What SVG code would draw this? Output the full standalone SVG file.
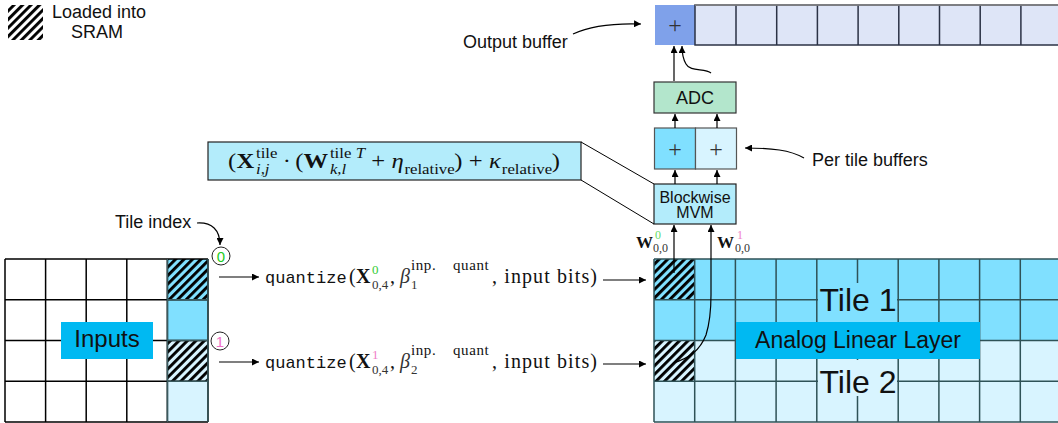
<svg xmlns="http://www.w3.org/2000/svg" width="1058" height="423" viewBox="0 0 1058 423">
<style>
.sans{font-family:"Liberation Sans",Arial,sans-serif}
.serif{font-family:"Liberation Serif","Times New Roman",serif}
.mono{font-family:"Liberation Mono","Courier New",monospace}
.b{font-weight:bold}
.i{font-style:italic}
.conn{fill:none;stroke:#000;stroke-width:1.2}
.grid-r{stroke:#2f5257;stroke-width:1.5;fill:none}
.grid-l{stroke:#000;stroke-width:1.5;fill:none}
.t1{fill:#80E0FF}
.t2{fill:#D8F4FF}
</style>
<defs>
<pattern id="hatch" patternUnits="userSpaceOnUse" width="6" height="6" patternTransform="rotate(45)">
<rect x="0" y="0" width="2.9" height="6" fill="#000"/>
</pattern>
<marker id="ah" viewBox="0 0 10 10" refX="10" refY="5" markerWidth="7" markerHeight="7" markerUnits="userSpaceOnUse" orient="auto">
<path d="M0,0 L10,5 L0,10 z" fill="#000"/>
</marker>
</defs>
<rect width="1058" height="423" fill="#fff"/>
<g fill="#111">

<g id="legend">
<rect x="8" y="5" width="35" height="35" fill="url(#hatch)"/>
<text class="sans" x="52" y="18" font-size="18">Loaded into</text>
<text class="sans" x="97" y="38" font-size="18" text-anchor="middle">SRAM</text>
</g>

<g id="output-buffer">
<rect x="655" y="5" width="40" height="40" fill="#7FA1EA"/>
<rect x="695" y="5" width="366" height="40" fill="#DEE5F7" stroke="#2b3245" stroke-width="1.5"/>
<path d="M736,5V45M776.7,5V45M817.4,5V45M858.1,5V45M898.8,5V45M939.5,5V45M980.2,5V45M1020.9,5V45" stroke="#2b3245" stroke-width="1.5"/>
<line x1="695" y1="5" x2="1058" y2="5" stroke="#888" stroke-width="1.5"/>
<text class="serif" x="675" y="33" font-size="24" text-anchor="middle" fill="#333">+</text>
<text class="sans" x="463" y="48" font-size="18">Output buffer</text>
</g>

<g id="adc">
<rect x="654" y="82" width="82" height="31" fill="#B3E6CC" stroke="#333" stroke-width="1.2"/>
<text class="sans" x="695" y="104" font-size="18" text-anchor="middle">ADC</text>
</g>

<g id="tile-buffers">
<rect x="654.5" y="128" width="41" height="41" class="t1" stroke="#555" stroke-width="1.2"/>
<rect x="695.5" y="128" width="41" height="41" class="t2" stroke="#555" stroke-width="1.2"/>
<text class="serif" x="675" y="157" font-size="24" text-anchor="middle" fill="#333">+</text>
<text class="serif" x="716" y="157" font-size="24" text-anchor="middle" fill="#333">+</text>
<text class="sans" x="812" y="166" font-size="18">Per tile buffers</text>
</g>

<g id="mvm">
<rect x="654" y="184" width="82" height="40" fill="#B3ECFB" stroke="#222" stroke-width="1.2"/>
<text class="sans" x="695" y="203" font-size="16" text-anchor="middle">Blockwise</text>
<text class="sans" x="695" y="218" font-size="16" text-anchor="middle">MVM</text>
</g>

<g id="formula">
<rect x="208" y="142" width="373" height="38" fill="#B3ECFB" stroke="#222" stroke-width="1.2"/>
<g transform="translate(228,0) scale(1.12,1) translate(-228,0)">
<text class="serif" x="228" y="168" font-size="22">(</text>
<text class="serif b" x="235.5" y="168" font-size="22">X</text>
<text class="serif" x="253" y="158" font-size="15">tile</text>
<text class="serif i" x="253" y="174" font-size="15">i,j</text>
<text class="serif" x="277" y="168" font-size="22">·</text>
<text class="serif" x="288" y="168" font-size="22">(</text>
<text class="serif b" x="295.5" y="168" font-size="22">W</text>
<text class="serif" x="319" y="158" font-size="15">tile</text>
<text class="serif i" x="342" y="158" font-size="15">T</text>
<text class="serif i" x="319" y="174" font-size="15">k,l</text>
<text class="serif" x="356" y="168" font-size="22">+</text>
<text class="serif i" x="374" y="168" font-size="22">η</text>
<text class="serif" x="385.5" y="174" font-size="15">relative</text>
<text class="serif" x="430" y="168" font-size="22">)</text>
<text class="serif" x="443" y="168" font-size="22">+</text>
<text class="serif i" x="461" y="168" font-size="22">κ</text>
<text class="serif" x="472.5" y="174" font-size="15">relative</text>
<text class="serif" x="517" y="168" font-size="22">)</text>
</g>
</g>

<g id="inputs">
<rect x="167.4" y="259" width="40.6" height="81.5" class="t1"/>
<rect x="167.4" y="340.5" width="40.6" height="81.5" class="t2"/>
<rect x="167.4" y="259" width="40.6" height="40.75" fill="url(#hatch)"/>
<rect x="167.4" y="340.5" width="40.6" height="40.75" fill="url(#hatch)"/>
<path class="grid-l" d="M5,259H208M5,299.75H208M5,340.5H208M5,381.25H208M5,422H208M5,259V422M45.6,259V422M86.2,259V422M126.8,259V422M167.4,259V422M208,259V422"/>
<path d="M167.4,259V422M208,259V422M167.4,299.75H208M167.4,340.5H208M167.4,381.25H208" stroke="#3a5a5e" stroke-width="1.5"/>
<rect x="61" y="322" width="92" height="37" fill="#00B9F2"/>
<text class="sans" x="107" y="347" font-size="24" text-anchor="middle">Inputs</text>
</g>

<g id="tile-index">
<text class="sans" x="115" y="228" font-size="18">Tile index</text>
<circle cx="221" cy="256" r="9" fill="#fff" stroke="#222" stroke-width="1"/>
<text class="sans" x="221" y="261.5" font-size="15" text-anchor="middle" fill="#22CC22">0</text>
<circle cx="220" cy="341" r="9" fill="#fff" stroke="#222" stroke-width="1"/>
<text class="sans" x="220" y="346.5" font-size="15" text-anchor="middle" fill="#F070C8">1</text>
</g>

<g id="quantize-0">
<text class="mono" x="265" y="283" font-size="17">quantize</text>
<text class="serif" x="349" y="283" font-size="20">(</text>
<text class="serif b" x="356" y="283" font-size="20">X</text>
<text class="serif" x="372" y="274" font-size="13" fill="#33CC33">0</text>
<text class="serif" x="372" y="289" font-size="13" fill="#333">0,4</text>
<text class="serif" x="390" y="283" font-size="20">,</text>
<text class="serif i" x="400" y="283" font-size="20" fill="#333">β</text>
<text class="serif" x="411" y="270" font-size="15" letter-spacing="0.6">inp.</text>
<text class="serif" x="453" y="270" font-size="15" letter-spacing="0.6">quant</text>
<text class="serif" x="411" y="289" font-size="13" fill="#333">1</text>
<text class="serif" x="492" y="283" font-size="20" textLength="105" lengthAdjust="spacing">, input bits)</text>
</g>

<g id="quantize-1">
<text class="mono" x="265" y="368" font-size="17">quantize</text>
<text class="serif" x="349" y="368" font-size="20">(</text>
<text class="serif b" x="356" y="368" font-size="20">X</text>
<text class="serif" x="372" y="359" font-size="13" fill="#F080C8">1</text>
<text class="serif" x="372" y="374" font-size="13" fill="#333">0,4</text>
<text class="serif" x="390" y="368" font-size="20">,</text>
<text class="serif i" x="400" y="368" font-size="20" fill="#333">β</text>
<text class="serif" x="411" y="355" font-size="15" letter-spacing="0.6">inp.</text>
<text class="serif" x="453" y="355" font-size="15" letter-spacing="0.6">quant</text>
<text class="serif" x="411" y="374" font-size="13" fill="#333">2</text>
<text class="serif" x="492" y="368" font-size="20" textLength="105" lengthAdjust="spacing">, input bits)</text>
</g>

<g id="analog-layer">
<rect x="654" y="259" width="407" height="81.5" class="t1"/>
<rect x="654" y="340.5" width="407" height="81.5" class="t2"/>
<rect x="654" y="259" width="40.7" height="40.75" fill="url(#hatch)"/>
<rect x="654" y="340.5" width="40.7" height="40.75" fill="url(#hatch)"/>
<path class="grid-r" d="M654,259H1061M654,299.75H1061M654,340.5H1061M654,381.25H1061M654,422H1061M654,259V422M694.7,259V422M735.4,259V422M776.1,259V422M816.8,259V422M857.5,259V422M898.2,259V422M938.9,259V422M979.6,259V422M1020.3,259V422"/>
<rect x="818" y="283" width="79" height="39" class="t1"/>
<rect x="818" y="360" width="79" height="36" class="t2"/>
<text class="sans" x="858" y="311" font-size="32" text-anchor="middle">Tile 1</text>
<text class="sans" x="858" y="393" font-size="32" text-anchor="middle">Tile 2</text>
<rect x="736" y="322" width="244" height="37" fill="#00B9F2"/>
<text class="sans" x="858" y="348" font-size="23" text-anchor="middle">Analog Linear Layer</text>
</g>

<g id="weight-labels">
<text class="serif b" x="636" y="248" font-size="17">W</text>
<text class="serif" x="655" y="239" font-size="12" fill="#66DD66">0</text>
<text class="serif" x="653" y="252" font-size="12" fill="#333">0,0</text>
<text class="serif b" x="717" y="248" font-size="17">W</text>
<text class="serif" x="737" y="239" font-size="12" fill="#F080C8">1</text>
<text class="serif" x="735" y="252" font-size="12" fill="#333">0,0</text>
</g>

<g id="connectors">
<line x1="581" y1="142" x2="654" y2="184" stroke="#000" stroke-width="1"/>
<line x1="581" y1="180" x2="654" y2="224" stroke="#000" stroke-width="1"/>
<path class="conn" d="M573,34 C590,26 612,23 641,24" marker-end="url(#ah)"/>
<path class="conn" d="M674,81 L674,46" marker-end="url(#ah)"/>
<path class="conn" d="M711,73 C705,68 690,72 686,64 C683,59 682,54 682,46" marker-end="url(#ah)"/>
<path class="conn" d="M675,128 L675,114" marker-end="url(#ah)"/>
<path class="conn" d="M717,128 L717,114" marker-end="url(#ah)"/>
<path class="conn" d="M675,184 L675,170" marker-end="url(#ah)"/>
<path class="conn" d="M717,184 L717,170" marker-end="url(#ah)"/>
<path class="conn" d="M804,158 C790,150 772,148 745,148" marker-end="url(#ah)"/>
<path class="conn" d="M674,273 L674,225" marker-end="url(#ah)"/>
<path class="conn" d="M673,363 C690,358 700,350 706,335 C710,322 711,310 711,295 L711,225" marker-end="url(#ah)"/>
<path class="conn" d="M197,223 C212,222 220,230 220,245" marker-end="url(#ah)"/>
<path class="conn" d="M219,277 L259,277" marker-end="url(#ah)"/>
<path class="conn" d="M219,362 L259,362" marker-end="url(#ah)"/>
<path class="conn" d="M603,280 L646,280" marker-end="url(#ah)"/>
<path class="conn" d="M603,364 L646,364" marker-end="url(#ah)"/>
</g>
</g>
</svg>
